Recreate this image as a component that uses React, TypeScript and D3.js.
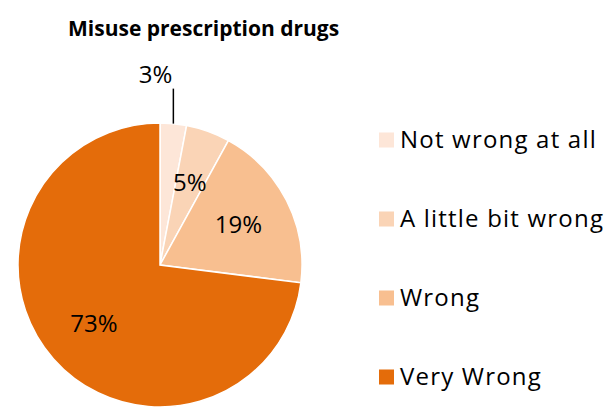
import { useRef, useEffect } from 'react'
import * as d3 from 'd3'

const categories = ['Not wrong at all', 'A little bit wrong', 'Wrong', 'Very Wrong']
const values = [3, 5, 19, 73]
const colors = ['#fde6d8', '#fad4b6', '#f8bf90', '#e46c0a']

export default function App() {
  const svgRef = useRef<SVGSVGElement>(null)

  useEffect(() => {
    if (!svgRef.current) return
    const width = 612
    const height = 408
    const svg = d3.select(svgRef.current)
    svg.selectAll('*').remove()
    svg.attr('width', width).attr('height', height)

    const font = "'Open Sans', 'Noto Sans', sans-serif"
    const cx = 160
    const cy = 265
    const r = 142

    svg.append('text')
      .attr('x', 68)
      .attr('y', 36)
      .attr('font-family', font)
      .attr('font-weight', 'bold')
      .attr('font-size', '21px')
      .attr('fill', '#000')
      .text('Misuse prescription drugs')

    const data = categories.map((c, i) => ({ name: c, value: values[i], color: colors[i] }))
    const pie = d3.pie<typeof data[0]>().value(d => d.value).sort(null)
    const arcs = pie(data)
    const arc = d3.arc<d3.PieArcDatum<typeof data[0]>>().innerRadius(0).outerRadius(r)
    const labelArc = d3.arc<d3.PieArcDatum<typeof data[0]>>().innerRadius(r * 0.62).outerRadius(r * 0.62)

    const g = svg.append('g').attr('transform', `translate(${cx},${cy})`)

    g.selectAll('path')
      .data(arcs)
      .join('path')
      .attr('d', arc)
      .attr('fill', d => d.data.color)
      .attr('stroke', '#fff')
      .attr('stroke-width', 1.5)

    // labels inside slices (all but the smallest)
    g.selectAll('.lbl')
      .data(arcs.slice(1))
      .join('text')
      .attr('class', 'lbl')
      .attr('transform', d => `translate(${labelArc.centroid(d)})`)
      .attr('text-anchor', 'middle')
      .attr('dy', '0.35em')
      .attr('font-family', font)
      .attr('font-size', '24px')
      .attr('fill', '#000')
      .text(d => `${d.data.value}%`)

    // small slice: label outside with leader line
    const first = arcs[0]
    const mid = (first.startAngle + first.endAngle) / 2
    const lx = r * Math.sin(mid)
    const ly = -r * Math.cos(mid)
    g.append('line')
      .attr('x1', lx).attr('y1', ly)
      .attr('x2', lx).attr('y2', ly - 35)
      .attr('stroke', '#000')
      .attr('stroke-width', 1.5)
    g.append('text')
      .attr('x', lx - 1)
      .attr('y', ly - 41)
      .attr('text-anchor', 'end')
      .attr('font-family', font)
      .attr('font-size', '24px')
      .attr('fill', '#000')
      .text(`${first.data.value}%`)

    // legend
    const ly0 = d3.scalePoint<string>().domain(categories).range([140, 377])
    const leg = svg.append('g')
    leg.selectAll('rect')
      .data(data)
      .join('rect')
      .attr('x', 379)
      .attr('y', d => ly0(d.name)! - 7.5)
      .attr('width', 15)
      .attr('height', 15)
      .attr('fill', d => d.color)
    leg.selectAll('text')
      .data(data)
      .join('text')
      .attr('x', 400)
      .attr('y', d => ly0(d.name)!)
      .attr('dy', '0.35em')
      .attr('font-family', font)
      .attr('font-size', '24px')
      .attr('letter-spacing', '1.2px')
      .attr('fill', '#000')
      .text(d => d.name)
  }, [])

  return <svg ref={svgRef} style={{ position: 'absolute', left: 0, top: 0 }} />
}
